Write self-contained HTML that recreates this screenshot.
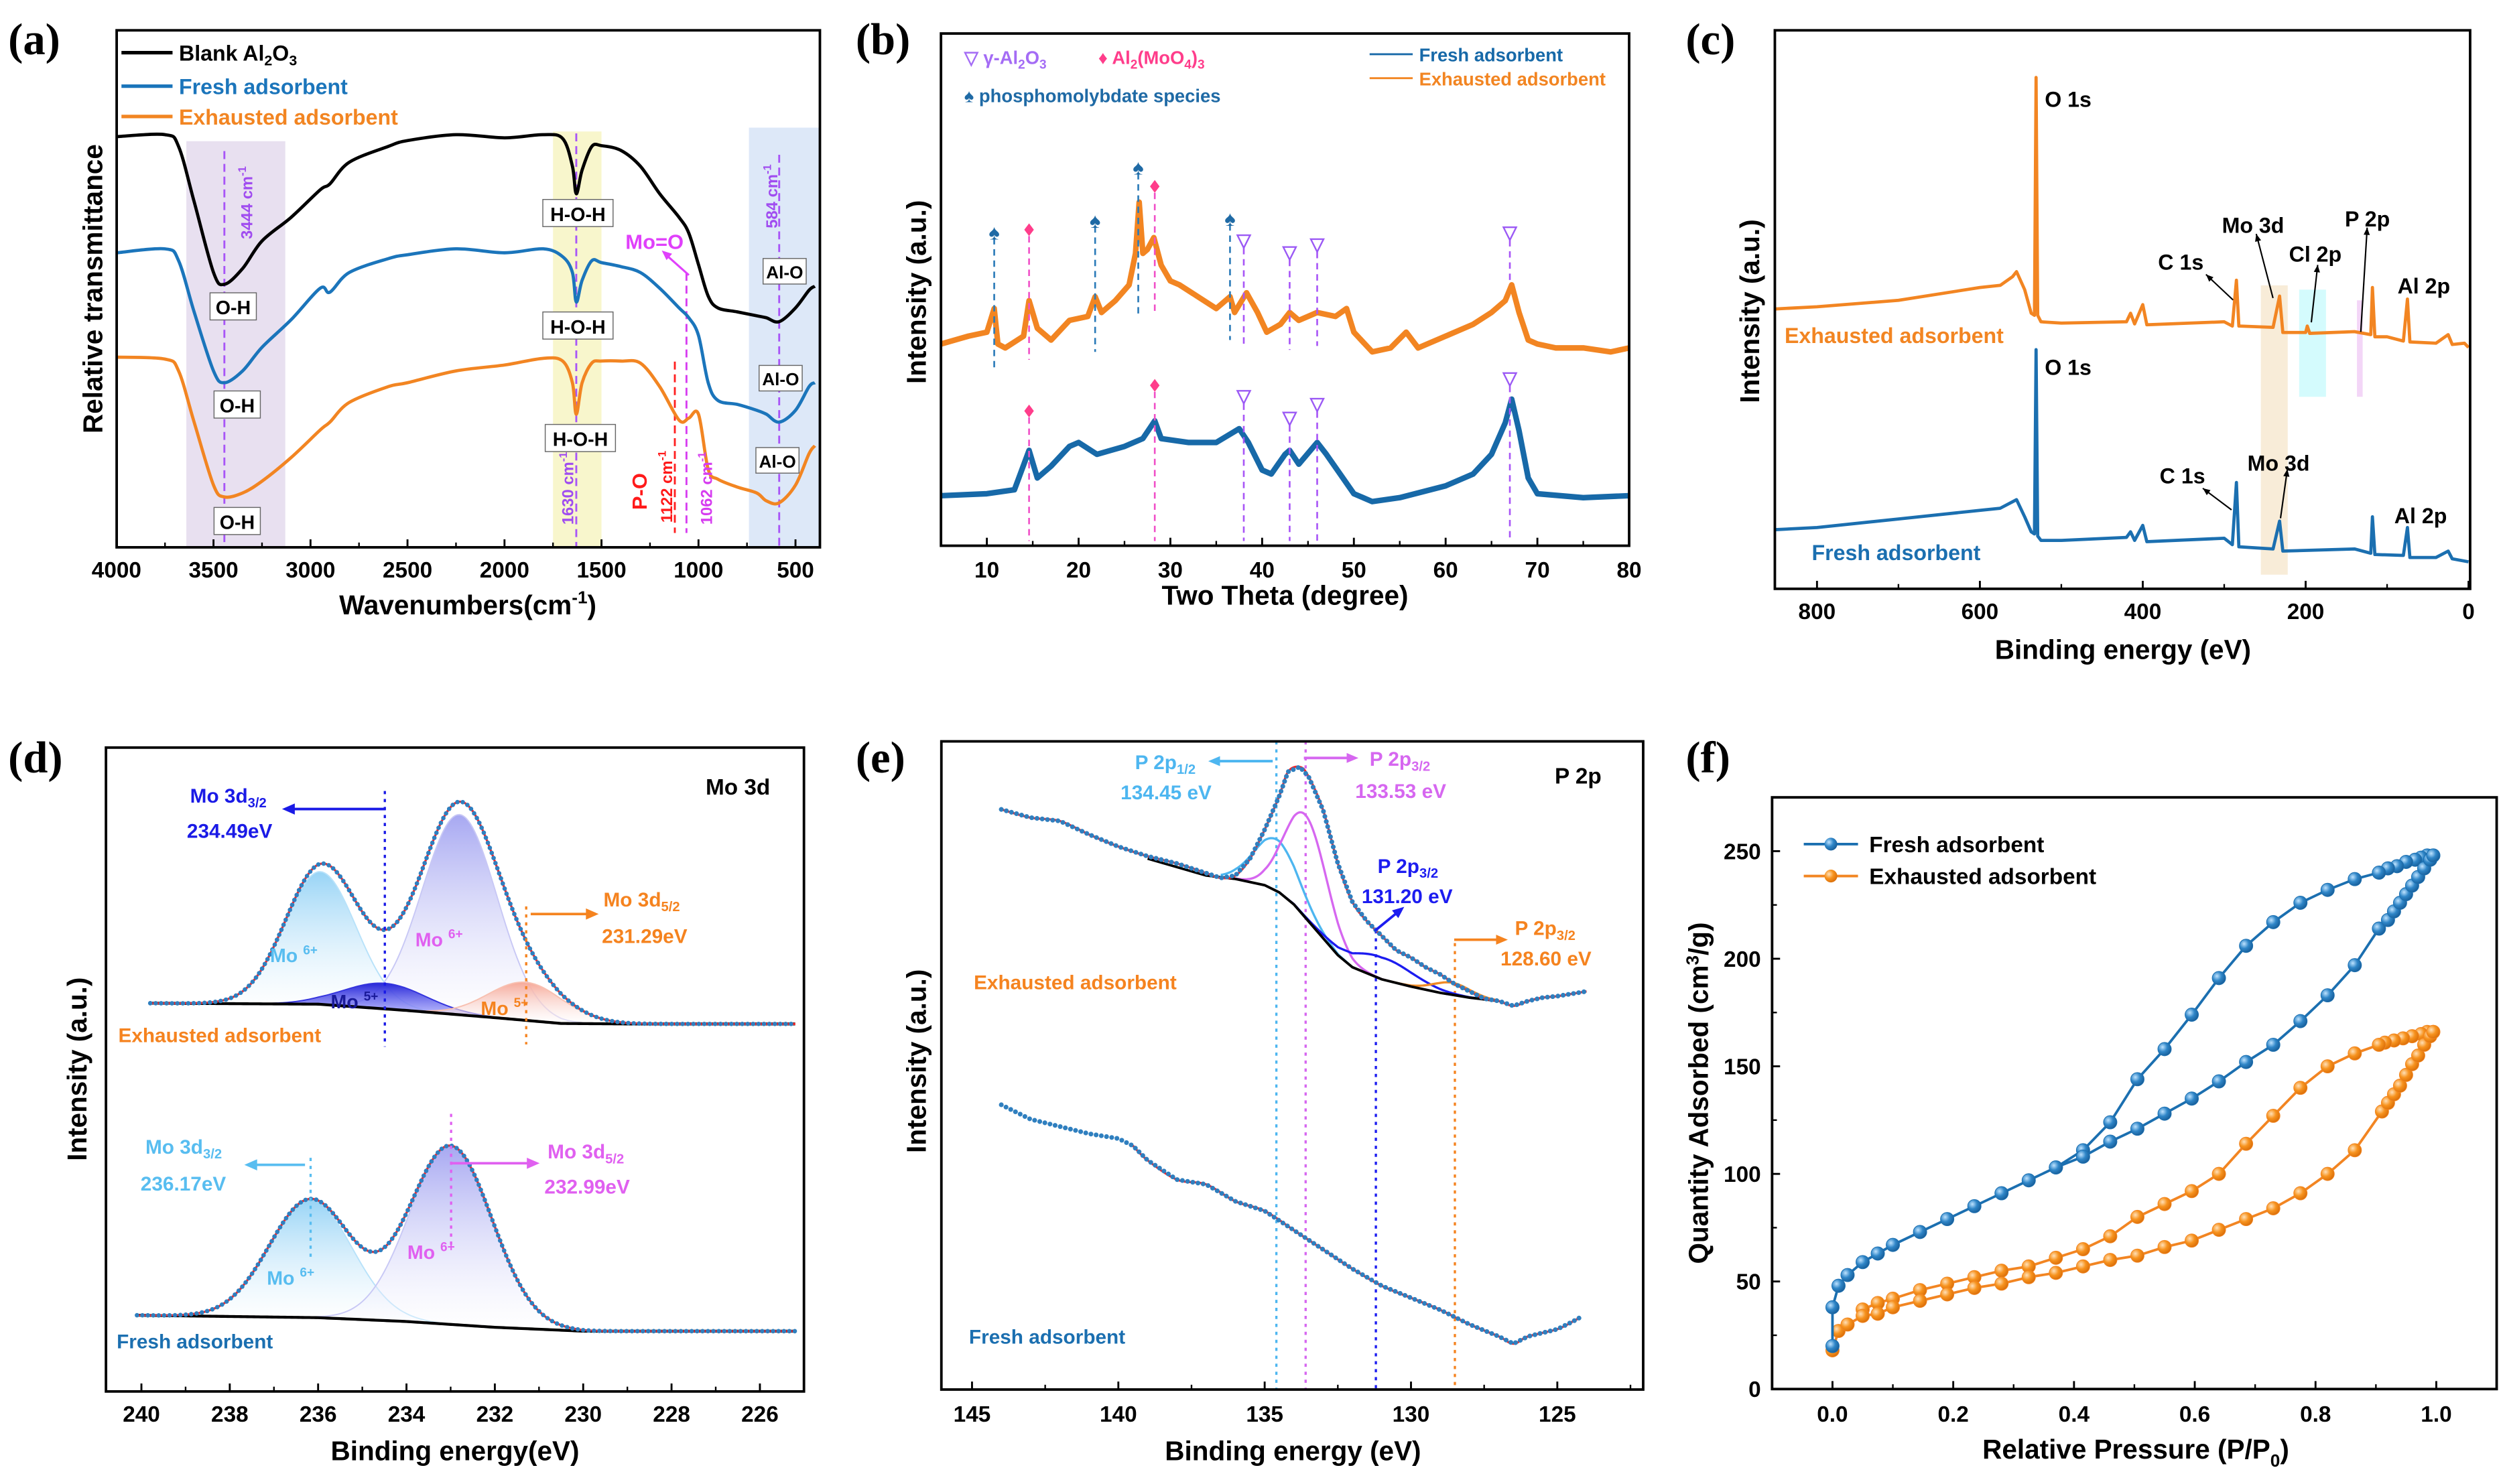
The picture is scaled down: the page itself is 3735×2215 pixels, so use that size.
<!DOCTYPE html>
<html><head><meta charset="utf-8"><title>Figure</title>
<style>
html,body{margin:0;padding:0;background:#fff;}
svg{display:block;}
text{font-family:"Liberation Sans",Arial,sans-serif;font-weight:bold;}
.serif{font-family:"Liberation Serif",serif;font-weight:bold;}
</style></head>
<body>
<svg id="fig" xmlns="http://www.w3.org/2000/svg" width="3735" height="2215" viewBox="0 0 1568 930">
<defs>
<linearGradient id="gLB" x1="0" y1="0" x2="0" y2="1"><stop offset="0" stop-color="#8ccff5" stop-opacity="0.9"/><stop offset="1" stop-color="#ffffff" stop-opacity="0.3"/></linearGradient>
<linearGradient id="gPU" x1="0" y1="0" x2="0" y2="1"><stop offset="0" stop-color="#9d9ef0" stop-opacity="0.9"/><stop offset="1" stop-color="#ffffff" stop-opacity="0.3"/></linearGradient>
<linearGradient id="gDB" x1="0" y1="0" x2="0" y2="1"><stop offset="0" stop-color="#2727d8"/><stop offset="1" stop-color="#a0a0ff" stop-opacity="0.6"/></linearGradient>
<linearGradient id="gOR" x1="0" y1="0" x2="0" y2="1"><stop offset="0" stop-color="#f6a898"/><stop offset="1" stop-color="#ffffff" stop-opacity="0.4"/></linearGradient>
<radialGradient id="mBlue" cx="0.35" cy="0.35" r="0.7"><stop offset="0" stop-color="#bfe3ff"/><stop offset="0.5" stop-color="#2f86c8"/><stop offset="1" stop-color="#175d98"/></radialGradient>
<radialGradient id="mOrange" cx="0.35" cy="0.35" r="0.7"><stop offset="0" stop-color="#ffe0b8"/><stop offset="0.5" stop-color="#f7931e"/><stop offset="1" stop-color="#d96d08"/></radialGradient>
</defs>
<rect x="0" y="0" width="1568" height="930" fill="#fff"/>

<text class="serif" x="5" y="34" font-size="28">(a)</text>
<text class="serif" x="536" y="34" font-size="28">(b)</text>
<text class="serif" x="1056" y="34" font-size="28">(c)</text>
<text class="serif" x="5" y="484" font-size="28">(d)</text>
<text class="serif" x="536" y="484" font-size="28">(e)</text>
<text class="serif" x="1056" y="484" font-size="28">(f)</text>

<g id="layerA"></g>
<g id="layerB"></g>
<g id="layerC"></g>
<g id="layerD"></g>
<g id="layerE"></g>
<g id="layerF"></g>

<g id="annot">
<text x="293" y="385" font-size="17" text-anchor="middle">Wavenumbers(cm<tspan font-size="11" dy="-7">-1</tspan><tspan dy="7">)</tspan></text>
<text transform="translate(64,181) rotate(-90)" font-size="17" text-anchor="middle">Relative transmittance</text>
<text x="805" y="379" font-size="17" text-anchor="middle">Two Theta (degree)</text>
<text transform="translate(580,183) rotate(-90)" font-size="17" text-anchor="middle">Intensity (a.u.)</text>
<text x="1330" y="413" font-size="17" text-anchor="middle">Binding energy (eV)</text>
<text transform="translate(1102,195) rotate(-90)" font-size="17" text-anchor="middle">Intensity (a.u.)</text>
<text x="285" y="915" font-size="17" text-anchor="middle">Binding energy(eV)</text>
<text transform="translate(54,670) rotate(-90)" font-size="17" text-anchor="middle">Intensity (a.u.)</text>
<text x="810" y="915" font-size="17" text-anchor="middle">Binding energy (eV)</text>
<text transform="translate(580,665) rotate(-90)" font-size="17" text-anchor="middle">Intensity (a.u.)</text>
<text x="1338" y="914" font-size="17" text-anchor="middle">Relative Pressure (P/P<tspan font-size="11" dy="5">0</tspan><tspan dy="-5">)</tspan></text>
<text transform="translate(1070,685) rotate(-90)" font-size="17" text-anchor="middle">Quantity Adsorbed (cm<tspan font-size="11" dy="-6">3</tspan><tspan dy="6">/g)</tspan></text>

<line x1="76" y1="33" x2="108" y2="33" stroke="#000" stroke-width="2.2"/>
<text x="112" y="38" font-size="13.5" fill="#000">Blank Al<tspan font-size="9" dy="3">2</tspan><tspan dy="-3">O</tspan><tspan font-size="9" dy="3">3</tspan></text>
<line x1="76" y1="54" x2="108" y2="54" stroke="#1b75bb" stroke-width="2.2"/>
<text x="112" y="59" font-size="13.5" fill="#1b75bb">Fresh adsorbent</text>
<line x1="76" y1="73" x2="108" y2="73" stroke="#f28522" stroke-width="2.2"/>
<text x="112" y="78" font-size="13.5" fill="#f28522">Exhausted adsorbent</text>

<text transform="translate(158,127) rotate(-90)" font-size="10" fill="#a04cf0" text-anchor="middle">3444 cm<tspan font-size="7" dy="-4">-1</tspan></text>
<text transform="translate(359,306) rotate(-90)" font-size="10" fill="#a04cf0" text-anchor="middle">1630 cm<tspan font-size="7" dy="-4">-1</tspan></text>
<text transform="translate(405,308) rotate(-90)" font-size="13" fill="#ff1a1a" text-anchor="middle">P-O</text>
<text transform="translate(421,305) rotate(-90)" font-size="10" fill="#ff1a1a" text-anchor="middle">1122 cm<tspan font-size="7" dy="-4">-1</tspan></text>
<text transform="translate(446,306) rotate(-90)" font-size="10" fill="#d63cf0" text-anchor="middle">1062 cm<tspan font-size="7" dy="-4">-1</tspan></text>
<text transform="translate(487,123) rotate(-90)" font-size="10" fill="#a04cf0" text-anchor="middle">584 cm<tspan font-size="7" dy="-4">-1</tspan></text>
<text x="410" y="156" font-size="13" fill="#e040fb" text-anchor="middle">Mo=O</text>
<line x1="431.5" y1="172.4" x2="417" y2="159.5" stroke="#e040fb" stroke-width="1.3"/>
<polygon points="414.5,157 421,159 417.5,163" fill="#e040fb"/>

<text x="604" y="40" font-size="11.5" fill="#a46cf5">▽ γ-Al<tspan font-size="8" dy="3">2</tspan><tspan dy="-3">O</tspan><tspan font-size="8" dy="3">3</tspan></text>
<text x="688" y="40" font-size="11.5" fill="#ff3d8b">♦ Al<tspan font-size="8" dy="3">2</tspan><tspan dy="-3">(MoO</tspan><tspan font-size="8" dy="3">4</tspan><tspan dy="-3">)</tspan><tspan font-size="8" dy="3">3</tspan></text>
<text x="604" y="64" font-size="11.5" fill="#1f6aa5">♠ phosphomolybdate species</text>
<line x1="858" y1="34" x2="885" y2="34" stroke="#1769a8" stroke-width="1.2"/>
<text x="889" y="38.5" font-size="11.5" fill="#1769a8">Fresh adsorbent</text>
<line x1="858" y1="49" x2="885" y2="49" stroke="#f28522" stroke-width="1.2"/>
<text x="889" y="53.5" font-size="11.5" fill="#f28522">Exhausted adsorbent</text>

<g font-size="13.5">
<text x="1281" y="67">O 1s</text>
<text x="1281" y="235">O 1s</text>
<text x="1352" y="169">C 1s</text>
<text x="1392" y="146">Mo 3d</text>
<text x="1434" y="164">Cl 2p</text>
<text x="1469" y="142">P 2p</text>
<text x="1502" y="184">Al 2p</text>
<text x="1353" y="303">C 1s</text>
<text x="1408" y="295">Mo 3d</text>
<text x="1500" y="328">Al 2p</text>
</g>
<text x="1118" y="215" font-size="13.5" fill="#f28522">Exhausted adsorbent</text>
<text x="1135" y="351" font-size="13.5" fill="#1b6fb0">Fresh adsorbent</text>

<text x="442" y="498" font-size="14">Mo 3d</text>
<text x="119" y="503" font-size="12.5" fill="#1a1ae6">Mo 3d<tspan font-size="8.5" dy="3">3/2</tspan></text>
<text x="117" y="525" font-size="12.5" fill="#1a1ae6">234.49eV</text>
<text x="378" y="568" font-size="12.5" fill="#f5831f">Mo 3d<tspan font-size="8.5" dy="3">5/2</tspan></text>
<text x="377" y="591" font-size="12.5" fill="#f5831f">231.29eV</text>
<text x="184" y="603" font-size="12" fill="#58bdf0" text-anchor="middle">Mo <tspan font-size="8" dy="-5">6+</tspan></text>
<text x="275" y="593" font-size="12" fill="#e060f0" text-anchor="middle">Mo <tspan font-size="8" dy="-5">6+</tspan></text>
<text x="222" y="632" font-size="12" fill="#1a1a9a" text-anchor="middle">Mo <tspan font-size="8" dy="-5">5+</tspan></text>
<text x="316" y="636" font-size="12" fill="#f5831f" text-anchor="middle">Mo <tspan font-size="8" dy="-5">5+</tspan></text>
<text x="74" y="653" font-size="12.5" fill="#f5831f">Exhausted adsorbent</text>
<text x="91" y="723" font-size="12.5" fill="#58bdf0">Mo 3d<tspan font-size="8.5" dy="3">3/2</tspan></text>
<text x="88" y="746" font-size="12.5" fill="#58bdf0">236.17eV</text>
<text x="343" y="726" font-size="12.5" fill="#e060f0">Mo 3d<tspan font-size="8.5" dy="3">5/2</tspan></text>
<text x="341" y="748" font-size="12.5" fill="#e060f0">232.99eV</text>
<text x="182" y="805" font-size="12" fill="#58bdf0" text-anchor="middle">Mo <tspan font-size="8" dy="-5">6+</tspan></text>
<text x="270" y="789" font-size="12" fill="#e060f0" text-anchor="middle">Mo <tspan font-size="8" dy="-5">6+</tspan></text>
<text x="73" y="845" font-size="12.5" fill="#1b6fb0">Fresh adsorbent</text>

<text x="711" y="482" font-size="12.5" fill="#4db6f0">P 2p<tspan font-size="8.5" dy="3">1/2</tspan></text>
<text x="702" y="501" font-size="12.5" fill="#4db6f0">134.45 eV</text>
<text x="858" y="480" font-size="12.5" fill="#d667f0">P 2p<tspan font-size="8.5" dy="3">3/2</tspan></text>
<text x="849" y="500" font-size="12.5" fill="#d667f0">133.53 eV</text>
<text x="974" y="491" font-size="14">P 2p</text>
<text x="863" y="547" font-size="12.5" fill="#1c1cf0">P 2p<tspan font-size="8.5" dy="3">3/2</tspan></text>
<text x="853" y="566" font-size="12.5" fill="#1c1cf0">131.20 eV</text>
<text x="949" y="586" font-size="12.5" fill="#f5831f">P 2p<tspan font-size="8.5" dy="3">3/2</tspan></text>
<text x="940" y="605" font-size="12.5" fill="#f5831f">128.60 eV</text>
<text x="610" y="620" font-size="12.5" fill="#f5831f">Exhausted adsorbent</text>
<text x="607" y="842" font-size="12.5" fill="#1b6fb0">Fresh adsorbent</text>

<line x1="1130" y1="529" x2="1164" y2="529" stroke="#1b6fb0" stroke-width="1.6"/>
<circle cx="1147" cy="529" r="4" fill="url(#mBlue)"/>
<text x="1171" y="534" font-size="14">Fresh adsorbent</text>
<line x1="1130" y1="549" x2="1164" y2="549" stroke="#f28522" stroke-width="1.6"/>
<circle cx="1147" cy="549" r="4" fill="url(#mOrange)"/>
<text x="1171" y="554" font-size="14">Exhausted adsorbent</text>
</g>

<g id="boxlabels" font-size="12" text-anchor="middle">
<rect x="131.5" y="183.5" width="29" height="17" fill="#fff" stroke="#666" stroke-width="0.6"/><text x="146" y="197">O-H</text>
<rect x="134" y="245" width="29" height="17" fill="#fff" stroke="#666" stroke-width="0.6"/><text x="148.5" y="258.5">O-H</text>
<rect x="134" y="318" width="29" height="17" fill="#fff" stroke="#666" stroke-width="0.6"/><text x="148.5" y="331.5">O-H</text>
<rect x="340" y="125" width="44" height="17" fill="#fff" stroke="#666" stroke-width="0.6"/><text x="362" y="138.5">H-O-H</text>
<rect x="340" y="195.5" width="44" height="17" fill="#fff" stroke="#666" stroke-width="0.6"/><text x="362" y="209">H-O-H</text>
<rect x="341.5" y="266" width="44" height="17" fill="#fff" stroke="#666" stroke-width="0.6"/><text x="363.5" y="279.5">H-O-H</text>
<rect x="478" y="162" width="27" height="16" fill="#fff" stroke="#666" stroke-width="0.6"/><text x="491.5" y="174.5" font-size="11">Al-O</text>
<rect x="475.5" y="229" width="27" height="16" fill="#fff" stroke="#666" stroke-width="0.6"/><text x="489" y="241.5" font-size="11">Al-O</text>
<rect x="473.5" y="280.5" width="27" height="16" fill="#fff" stroke="#666" stroke-width="0.6"/><text x="487" y="293" font-size="11">Al-O</text>
</g>
</svg>

<script>
// (a) FTIR
const ftirWn = [4000,3750,3680,3600,3500,3444,3350,3250,3100,2950,2900,2800,2600,2500,2250,2000,1800,1700,1650,1630,1600,1550,1500,1400,1300,1200,1100,1050,1000,950,900,800,700,650,584,500,430,400];
const ftirBlank = [104.5,105,102,88,70,67,71,78,84,91,92.5,98,102,103.5,105,104.2,105,104,97,90,96,102,102.2,101,97,90,84,80,72,64,61,60,59,58.5,57.5,61,65.5,66.5];
const ftirFresh = [75,76,73,60,45,42,45,51,58,66,65,70,73.5,74.5,76,75,76,74,70,62.5,68,73,72.5,71.5,70,66,61,58.5,54,42,37.5,36.5,35,34,32,35,41,42];
const ftirExh = [48.5,48,45,32,16,13,14,17,23,30,32,37,41,42,45,46.5,48.2,47.5,42,34,42,47,47.5,47.5,47,41,32.5,33,34,20,17.5,15.5,14,12,11.5,16,24,26];
const ftirTicks = [4000,3500,3000,2500,2000,1500,1000,500];

// (b) XRD
const xrdExhTheta = [5,8,10,10.8,11.2,12,14,14.6,15.5,17,19,21,21.8,22.5,24,25.5,26.2,26.6,27,27.5,28.2,29,30,31,33,35,36.5,37,38.3,39.5,40.5,42,43,44,46,48,49.2,50,52,54,55.7,57,60,63,65,66.5,67.2,68,69,70,72,75,78,80];
const xrdExh = [52,54,55,61,52,51,54,63,56,53,58,59,64,60,63,67,75,88,75,76,79,72,68,67,64,61,64,60,65,60,55,57,60,58,60,59,61,55,50,51,55,51,54,57,60,63,67,60,53,52,51,51,50,51];
const xrdFreshTheta = [5,10,13,14.6,15.5,17,19,20,22,25,27,28.3,29,32,35,37.5,38.5,40,41,42.5,43,44,46,47,48.5,50,52,55,60,63,65,66.5,67.2,68,69,70,75,80];
const xrdFresh = [13.5,14,15,25,18,21,26,27,24,26,28,32.5,28,27,27,30.5,27,20,19,24,25,21.5,27,24,19,14,12,13,16,19,24,32,38,30,18,14,13,13.5];
const xrdTicks = [10,20,30,40,50,60,70,80];
const spadeTheta = [10.8,21.8,26.5,36.5];
const spadeTop = [80.5,83.5,97,84];
const spadeEnd = [46,50,59.5,53];
const diamondTheta = [14.6,28.3,14.6,28.3];
const diamondTop = [81,92,35,41.5];
const diamondEnd = [48,60,2,2];
const triTheta = [38,43,46,67,38,43,46,67];
const triTop = [78,75,77,80,38.5,33,36.5,43];
const triEnd = [52,50.5,51.5,67,2,2,2,2];

// (c) XPS survey
const surveyExhBE = [851,800,700,600,575,560,555,545,537,533,531,529,525,500,420,415,410,400,395,300,290,285,282,240,232,228,200,198,195,140,120,118,115,100,80,75,72,40,25,20,5,0];
const surveyExh = [66.5,67,68.5,71.5,72,74,75.2,71,65.5,65,120.5,65,63.5,63.2,63.5,65.5,63,67.5,62.8,63.5,62.5,73.2,62.5,62.2,69.5,61,61,62.5,60.8,61.2,60.5,71.5,60,60,59,68.8,58.8,58.5,60.5,58.2,58.5,57.5];
const surveyFreshBE = [851,800,700,600,575,560,555,545,537,533,531,529,525,500,420,415,410,400,395,300,290,285,282,240,232,228,140,120,118,115,80,75,72,40,25,20,0];
const surveyFresh = [15,15.5,17.5,19.5,20,21.5,22,18,14.5,14,57,13.5,12.5,12.5,13.2,14.5,12.5,16,12.2,13,11.5,26,11,10.5,17,10,10.5,9.5,18,9.2,9,15.5,8.5,8.5,10,8.2,7.5];
const surveyTicks = [800,600,400,200,0];

// (d) Mo 3d
const moExhBgBE = [239.8,236,234,232,230.5,229,225.2];
const moExhBg = [81,80.8,79.5,78,76.8,76.7,76.7];
const moExhCenters = [235.95,232.8,234.5,231.3];
const moExhHeights = [27.5,41.5,5.3,7.9];
const moExhWidths = [1.9,2.0,2.2,2.0];
const moFreshBgBE = [240.1,236,234,232,230,225.2];
const moFreshBg = [16.3,15.8,15,13.8,13,13];
const moFreshCenters = [236.17,233.0];
const moFreshHeights = [24.5,37];
const moFreshWidths = [2.2,2.2];
const moTicks = [240,238,236,234,232,230,228,226];

// (e) P 2p
const pExhBE = [144,143,142,141,140,139,138,137,136.5,136,135.5,135,134.5,134.2,133.8,133.5,133,132.5,132,131.5,131,130.5,130,129.5,129,128.5,128,127.5,127,126.5,126,125.5,125,124.5,124];
const pExh = [121.2,119.5,118.8,116,113.5,111.5,110,108,107,107.5,111,117,124,129,130,128,121,110,102,98,95,92,90.5,88.5,87,85,83.5,82,81.5,80.5,81.5,82.2,82.5,83,83.5];
const pBgBE = [139,137,136,135,134.5,134,133.5,133,132.5,132,131,130,129,128,127];
const pBg = [111,107.5,106.8,105.5,104,101.5,98,94.5,91,88.5,86,84.5,83.2,82.2,81.5];
const pCenters = [134.6,133.6,131.0,128.6];
const pHeights = [10.7,21.3,4.5,2.5];
const pWidths = [1.8,1.7,2.5,1.5];
const pFreshBE = [144,143,142,141,140,139.5,139,138,137,136,135,134,133,132,131,130,129,128,127,126.5,126,125,124.5,124.2];
const pFresh = [60,57,55.5,54,53,51.5,48.5,44.5,43.5,40,38,34,30,26,22.5,20,17.5,14.5,12,10.5,12,13.5,15,16];
const pTicks = [145,140,135,130,125];

// (f) isotherms
const freshAdsP = [0,0,0.01,0.025,0.05,0.075,0.1,0.145,0.19,0.235,0.28,0.325,0.37,0.415,0.46,0.505,0.55,0.595,0.64,0.685,0.73,0.775,0.82,0.865,0.905,0.92,0.93,0.94,0.95,0.96,0.97,0.98,0.99,0.995];
const freshAdsQ = [20,38,48,53,59,63,67,73,79,85,91,97,103,108,115,121,128,135,143,152,160,171,183,197,214,218,222,226,230,234,238,242,246,248];
const freshDesP = [0.995,0.985,0.975,0.965,0.95,0.935,0.92,0.905,0.865,0.82,0.775,0.73,0.685,0.64,0.595,0.55,0.505,0.46,0.415,0.37];
const freshDesQ = [248,248,247,246,245,243,242,240,237,232,226,217,206,191,174,158,144,124,111,103];
const exhAdsP = [0,0.01,0.025,0.05,0.075,0.1,0.145,0.19,0.235,0.28,0.325,0.37,0.415,0.46,0.505,0.55,0.595,0.64,0.685,0.73,0.775,0.82,0.865,0.91,0.92,0.93,0.94,0.95,0.96,0.97,0.98,0.99,0.995];
const exhAdsQ = [18,27,30,34,35,38,41,44,47,49,52,54,57,60,62,66,69,74,79,84,91,100,111,129,133,137,141,146,151,155,160,164,166];
const exhDesP = [0.995,0.985,0.975,0.96,0.945,0.93,0.915,0.905,0.865,0.82,0.775,0.73,0.685,0.64,0.595,0.55,0.505,0.46,0.415,0.37,0.325,0.28,0.235,0.19,0.145,0.1,0.075,0.05];
const exhDesQ = [166,166,165,164,163,162,161,160,156,150,140,127,114,100,92,86,80,71,65,61,57,55,52,49,46,42,40,37];
const isoXTicks = [0,0.2,0.4,0.6,0.8,1.0];
const isoYTicks = [0,50,100,150,200,250];

const NS = 'http://www.w3.org/2000/svg';
function mk(tag, attrs, parent){ const e=document.createElementNS(NS,tag); for(const k in attrs) e.setAttribute(k,attrs[k]); parent.appendChild(e); return e; }
function lin(d0,d1,r0,r1){ return v => r0 + (v-d0)*(r1-r0)/(d1-d0); }
function lineD(xs,ys,sx,sy){ return xs.map((x,i)=>(i?'L':'M')+sx(x).toFixed(2)+','+sy(ys[i]).toFixed(2)).join(''); }
function smoothD(xs,ys,sx,sy){
  const p = xs.map((x,i)=>[sx(x),sy(ys[i])]);
  let d = 'M'+p[0][0].toFixed(2)+','+p[0][1].toFixed(2);
  for(let i=0;i<p.length-1;i++){
    const p0=p[Math.max(i-1,0)], p1=p[i], p2=p[i+1], p3=p[Math.min(i+2,p.length-1)];
    const c1=[p1[0]+(p2[0]-p0[0])/6, p1[1]+(p2[1]-p0[1])/6];
    const c2=[p2[0]-(p3[0]-p1[0])/6, p2[1]-(p3[1]-p1[1])/6];
    d += 'C'+c1.map(v=>v.toFixed(2)).join(',')+' '+c2.map(v=>v.toFixed(2)).join(',')+' '+p2[0].toFixed(2)+','+p2[1].toFixed(2);
  }
  return d;
}
function interp(xs,ys,x){
  const asc = xs[xs.length-1] > xs[0];
  for(let i=0;i<xs.length-1;i++){
    const a=xs[i], b=xs[i+1];
    if((asc && x>=a && x<=b) || (!asc && x<=a && x>=b)){ return ys[i]+(ys[i+1]-ys[i])*(x-a)/(b-a); }
  }
  return (asc ? (x<xs[0]) : (x>xs[0])) ? ys[0] : ys[ys.length-1];
}
function gauss(x,c,h,w){ return h*Math.exp(-4*Math.LN2*(x-c)*(x-c)/(w*w)); }
function frame(layer,x0,y0,x1,y1){
  const r = mk('rect',{x:x0,y:y0,width:x1-x0,height:y1-y0,fill:'none',stroke:'#000','stroke-width':1.6},layer);
  
  
}
function xAxis(layer,sx,yb,majors,minorStep,labelY,fmt,xmin,xmax){
  const g = mk('g',{},layer);
  
  
  majors.forEach(v=>{
    const t = mk('line',{x1:sx(v),x2:sx(v),y1:yb,y2:yb-5,stroke:'#000','stroke-width':1.2},g);
    
    
    const l = mk('text',{x:sx(v),y:labelY,'text-anchor':'middle','font-size':14},g);
    
    
    l.textContent = fmt(v);
  });
  const lo=Math.min(xmin,xmax), hi=Math.max(xmin,xmax);
  for(let v=Math.ceil(lo/minorStep)*minorStep; v<=hi+1e-9; v+=minorStep){
    const m = mk('line',{x1:sx(v),x2:sx(v),y1:yb,y2:yb-3,stroke:'#000','stroke-width':1},g);
    
    
  }
}
function addPath(layer,d,attrs,name){
  const p = mk('path',Object.assign({d:d,fill:'none'},attrs),layer);
  
  
  return p;
}

// PANEL A
(function(){
  const L = document.getElementById('layerA');
  const x0=73, x1=513.6, y0=19, y1=343;
  const sx = lin(4000,500,72.9,498.3), sy = lin(0.2,131.5,343,19);
  const bands = [[3640,3130,'#e8e0f0',88.5],[1750,1500,'#f8f6cc',82.4],[740,375,'#dde8f8',80]];
  bands.forEach(b=>{
    const r = mk('rect',{x:sx(b[0]),y:b[3],width:sx(b[1])-sx(b[0]),height:y1-b[3],fill:b[2]},L);
    
    
  });
  const vlines = [[3444,94.7,'#a855f7'],[1630,83.6,'#a855f7'],[584,97,'#a855f7'],[1122,226.6,'#ff2020'],[1062,171,'#d63cf0']];
  vlines.forEach(v=>{
    const ln = mk('line',{x1:sx(v[0]),x2:sx(v[0]),y1:v[1],y2:(v[0]===1122||v[0]===1062)?334:y1,stroke:v[2],'stroke-width':1.2,'stroke-dasharray':'5,3'},L);
    
    
  });
  addPath(L,smoothD(ftirWn,ftirBlank,sx,sy),{stroke:'#000','stroke-width':2},'series-blank-al2o3');
  addPath(L,smoothD(ftirWn,ftirFresh,sx,sy),{stroke:'#1b75bb','stroke-width':2},'series-fresh-adsorbent');
  addPath(L,smoothD(ftirWn,ftirExh,sx,sy),{stroke:'#f28522','stroke-width':2},'series-exhausted-adsorbent');
  frame(L,x0,y0,x1,y1);
  xAxis(L,sx,y1,ftirTicks,250,362,v=>String(v),4000,375);
})();

// PANEL B
(function(){
  const L = document.getElementById('layerB');
  const sx = lin(10,80,618.2,1020.6), sy = lin(0.8,130.8,342,21);
  const x0=sx(5), x1=sx(80), y0=21, y1=342;
  addPath(L,lineD(xrdExhTheta,xrdExh,sx,sy),{stroke:'#f28522','stroke-width':3.5,'stroke-linejoin':'round'},'series-exhausted-xrd');
  addPath(L,lineD(xrdFreshTheta,xrdFresh,sx,sy),{stroke:'#1769a8','stroke-width':3.5,'stroke-linejoin':'round'},'series-fresh-xrd');
  spadeTheta.forEach((t,i)=>{
    const ln = mk('line',{x1:sx(t),x2:sx(t),y1:sy(spadeTop[i])+4,y2:sy(spadeEnd[i]),stroke:'#2a7ab8','stroke-width':1.1,'stroke-dasharray':'4,3'},L);
    
    
    const m = mk('text',{x:sx(t),y:sy(spadeTop[i])+5,'text-anchor':'middle','font-size':13,fill:'#1f6aa5'},L);
    
    
    m.textContent='♠';
  });
  diamondTheta.forEach((t,i)=>{
    const ln = mk('line',{x1:sx(t),x2:sx(t),y1:sy(diamondTop[i])+4,y2:sy(diamondEnd[i]),stroke:'#f050c8','stroke-width':1.1,'stroke-dasharray':'4,3'},L);
    
    
    const cx=sx(t), cy=sy(diamondTop[i]);
    const m = mk('polygon',{points:`${cx},${cy-4} ${cx+3},${cy} ${cx},${cy+4} ${cx-3},${cy}`,fill:'#ff3d8b'},L);
    
    
  });
  triTheta.forEach((t,i)=>{
    const ln = mk('line',{x1:sx(t),x2:sx(t),y1:sy(triTop[i])+4,y2:sy(triEnd[i]),stroke:'#a855f7','stroke-width':1.1,'stroke-dasharray':'4,3'},L);
    
    
    const cx=sx(t), cy=sy(triTop[i]);
    const m = mk('polygon',{points:`${cx-4},${cy-4} ${cx+4},${cy-4} ${cx},${cy+4}`,fill:'#fff',stroke:'#9b59f5','stroke-width':1},L);
    
    
  });
  frame(L,x0,y0,x1,y1);
  xAxis(L,sx,y1,xrdTicks,5,362,v=>String(v),5,80);
})();

// PANEL C
(function(){
  const L = document.getElementById('layerC');
  const sx = lin(800,0,1138.3,1546.5), sy = lin(1.2,131.5,369,19);
  const x0=1111.9, x1=1547.5, y0=19, y1=369;
  const bands=[[255,222,72,4.5,'#f8ecd8'],[208,175,71,46,'#d4fbfd'],[137,130,68.5,46,'#f3d6f7']];
  bands.forEach(b=>{
    const r = mk('rect',{x:sx(b[0]),y:sy(b[2]),width:sx(b[1])-sx(b[0]),height:sy(b[3])-sy(b[2]),fill:b[4]},L);
    
    
  });
  addPath(L,lineD(surveyExhBE,surveyExh,sx,sy),{stroke:'#f28522','stroke-width':2,'stroke-linejoin':'round'},'series-exhausted-survey');
  addPath(L,lineD(surveyFreshBE,surveyFresh,sx,sy),{stroke:'#1b6fb0','stroke-width':2,'stroke-linejoin':'round'},'series-fresh-survey');
  const arrows=[[1399,188,1382,172],[1424,186.8,1413.5,146.6],[1448,202,1452,166],[1479,208,1483,142.6],[1398,319.5,1380,306],[1428.7,324.8,1433,294]];
  arrows.forEach(a=>{
    const ln = mk('line',{x1:a[0],y1:a[1],x2:a[2],y2:a[3],stroke:'#000','stroke-width':0.9},L);
    
    
    const ang=Math.atan2(a[3]-a[1],a[2]-a[0]);
    const hx=a[2], hy=a[3], s=5;
    const p = mk('polygon',{points:`${hx},${hy} ${hx-s*Math.cos(ang-0.4)},${hy-s*Math.sin(ang-0.4)} ${hx-s*Math.cos(ang+0.4)},${hy-s*Math.sin(ang+0.4)}`,fill:'#000'},L);
    
    
  });
  frame(L,x0,y0,x1,y1);
  xAxis(L,sx,y1,surveyTicks,100,388,v=>String(v),851,0);
})();

// PANEL D
(function(){
  const L = document.getElementById('layerD');
  const sx = lin(240,226,88.5,476), sy = lin(0.5,134,872,468.5);
  const x0=66.3, x1=503.6, y0=468.5, y1=872;
  const fills=['url(#gLB)','url(#gPU)','url(#gDB)','url(#gOR)'];
  const strokes=['#b8e2fa','#c8c8f5','#3333dd','#f8c0b0'];
  function block(bgBE,bg,cs,hs,ws,start,tag){
    const xs=[]; for(let x=start; x>=225.2-1e-9; x-=0.05) xs.push(+x.toFixed(3));
    const base = xs.map(x=>interp(bgBE,bg,x));
    cs.forEach((c,k)=>{
      const seg = xs.filter(x=>gauss(x,c,hs[k],ws[k])>0.08);
      const top = seg.map(x=>interp(bgBE,bg,x)+gauss(x,c,hs[k],ws[k]));
      const bot = seg.map(x=>interp(bgBE,bg,x));
      let d = lineD(seg,top,sx,sy);
      for(let i=seg.length-1;i>=0;i--) d += 'L'+sx(seg[i]).toFixed(2)+','+sy(bot[i]).toFixed(2);
      d += 'Z';
      const p = mk('path',{d:d,fill:fills[k%4],stroke:strokes[k%4],'stroke-width':0.8},L);
      
      
    });
    const env = xs.map((x,i)=>base[i]+cs.reduce((s,c,k)=>s+gauss(x,c,hs[k],ws[k]),0));
    addPath(L,lineD(xs,base,sx,sy),{stroke:'#000','stroke-width':1.8},'background-'+tag);
    addPath(L,lineD(xs,env,sx,sy),{stroke:'#ff2020','stroke-width':1.4},'envelope-fit-'+tag);
    addPath(L,lineD(xs,env,sx,sy),{stroke:'#2f7fbf','stroke-width':2.8,'stroke-linecap':'round','stroke-dasharray':'0 3.4'},'data-points-'+tag);
  }
  block(moExhBgBE,moExhBg,moExhCenters,moExhHeights,moExhWidths,239.8,'exhausted');
  block(moFreshBgBE,moFreshBg,moFreshCenters,moFreshHeights,moFreshWidths,240.1,'fresh');
  const vl=[[234.49,495.7,656,'#1a1ae6'],[231.29,568,654.5,'#f5831f'],[236.17,725.6,787.6,'#58bdf0'],[232.99,698,780,'#e060f0']];
  vl.forEach(v=>{
    const ln = mk('line',{x1:sx(v[0]),x2:sx(v[0]),y1:v[1],y2:v[2],stroke:v[3],'stroke-width':1.4,'stroke-dasharray':'2,3'},L);
    
    
  });
  const arr=[[241.5,507,176.6,'#1a1ae6'],[332.4,572.8,375,'#f5831f'],[191,730,153,'#58bdf0'],[282.6,729,338,'#e060f0']];
  arr.forEach(a=>{
    const dir = a[2]>a[0]?1:-1;
    const ln = mk('line',{x1:a[0],y1:a[1],x2:a[2]-dir*6,y2:a[1],stroke:a[3],'stroke-width':1.6},L);
    
    
    const p = mk('polygon',{points:`${a[2]},${a[1]} ${a[2]-dir*8},${a[1]-3.5} ${a[2]-dir*8},${a[1]+3.5}`,fill:a[3]},L);
    
    
  });
  frame(L,x0,y0,x1,y1);
  xAxis(L,sx,y1,moTicks,1,891,v=>String(v),240.8,225);
})();

// PANEL E
(function(){
  const L = document.getElementById('layerE');
  const sx = lin(145,125,608.9,975.6), sy = lin(1,135.3,870.8,464.6);
  const x0=589.7, x1=1029.4, y0=464.6, y1=870.8;
  const vl=[[134.6,464.6,'#4db6f0'],[133.6,464.6,'#d667f0'],[131.2,583,'#1c1cf0'],[128.5,591,'#f5831f']];
  vl.forEach(v=>{
    const ln = mk('line',{x1:sx(v[0]),x2:sx(v[0]),y1:v[1],y2:y1,stroke:v[2],'stroke-width':1.4,'stroke-dasharray':'2,3'},L);
    
    
  });
  const xs=[]; for(let x=136.5; x>=127-1e-9; x-=0.05) xs.push(+x.toFixed(3));
  const base = xs.map(x=>interp(pBgBE,pBg,x));
  const cols=['#4db6f0','#d667f0','#1c1cf0','#f08a24'];
  pCenters.forEach((c,k)=>{
    const ys = xs.map((x,i)=>base[i]+gauss(x,c,pHeights[k],pWidths[k]));
    addPath(L,lineD(xs,ys,sx,sy),{stroke:cols[k],'stroke-width':1.4},'fit-component-p2p');
  });
  addPath(L,lineD(pBgBE,pBg,sx,sy),{stroke:'#000','stroke-width':1.6},'background-exhausted');
  addPath(L,smoothD(pExhBE,pExh,sx,sy),{stroke:'#ff2020','stroke-width':1.4},'envelope-fit-exhausted');
  addPath(L,lineD(pExhBE,pExh,sx,sy),{stroke:'#2f7fbf','stroke-width':3,'stroke-linecap':'round','stroke-dasharray':'0 3.3'},'data-points-exhausted');
  const fIdx = pFreshBE.indexOf(139.5);
  addPath(L,smoothD(pFreshBE.slice(fIdx),pFresh.slice(fIdx),sx,sy),{stroke:'#ff2020','stroke-width':1.4},'envelope-fit-fresh');
  addPath(L,lineD(pFreshBE,pFresh,sx,sy),{stroke:'#2f7fbf','stroke-width':3,'stroke-linecap':'round','stroke-dasharray':'0 3.3'},'data-points-fresh');
  const arr=[[797.3,477,756.9,477,'#4db6f0'],[816.8,475,851,475,'#d667f0'],[911,588.9,944.6,588.9,'#f5831f'],[861.2,583.4,879.7,568.3,'#1c1cf0']];
  arr.forEach(a=>{
    const ang=Math.atan2(a[3]-a[1],a[2]-a[0]);
    const ln = mk('line',{x1:a[0],y1:a[1],x2:a[2]-6*Math.cos(ang),y2:a[3]-6*Math.sin(ang),stroke:a[4],'stroke-width':1.6},L);
    
    
    const s=8, hx=a[2], hy=a[3];
    const p = mk('polygon',{points:`${hx},${hy} ${hx-s*Math.cos(ang-0.4)},${hy-s*Math.sin(ang-0.4)} ${hx-s*Math.cos(ang+0.4)},${hy-s*Math.sin(ang+0.4)}`,fill:a[4]},L);
    
    
  });
  frame(L,x0,y0,x1,y1);
  xAxis(L,sx,y1,pTicks,2.5,891,v=>String(v),146,122.1);
})();

// PANEL F
(function(){
  const L = document.getElementById('layerF');
  const sx = lin(0,1,1148,1526.3), sy = lin(0,250,870.5,533.4);
  const x0=sx(-0.1), x1=sx(1.1), y0=sy(275), y1=sy(0);
  function series(px,qy,col,grad,name){
    addPath(L,lineD(px,qy,sx,sy),{stroke:col,'stroke-width':1.6},name+'-line');
    px.forEach((p,i)=>{
      const c = mk('circle',{cx:sx(p),cy:sy(qy[i]),r:4.2,fill:grad,stroke:col,'stroke-width':0.4},L);
      
      
    });
  }
  series(exhDesP,exhDesQ,'#f28522','url(#mOrange)','exhausted-desorption');
  series(exhAdsP,exhAdsQ,'#f28522','url(#mOrange)','exhausted-adsorption');
  series(freshDesP,freshDesQ,'#1b6fb0','url(#mBlue)','fresh-desorption');
  series(freshAdsP,freshAdsQ,'#1b6fb0','url(#mBlue)','fresh-adsorption');
  frame(L,x0,y0,x1,y1);
  xAxis(L,sx,y1,isoXTicks,0.1,891,v=>v.toFixed(1),-0.1,1.1);
  const g = mk('g',{},L);
  
  
  isoYTicks.forEach(v=>{
    const t = mk('line',{x1:x0,x2:x0+5,y1:sy(v),y2:sy(v),stroke:'#000','stroke-width':1.2},g);
    
    
    const l = mk('text',{x:x0-7,y:sy(v)+5,'text-anchor':'end','font-size':14},g);
    
    
    l.textContent = String(v);
  });
  for(let v=25; v<=275; v+=50){
    const m = mk('line',{x1:x0,x2:x0+3,y1:sy(v),y2:sy(v),stroke:'#000','stroke-width':1},g);
    
    
  }
})();
</script>
</body></html>
